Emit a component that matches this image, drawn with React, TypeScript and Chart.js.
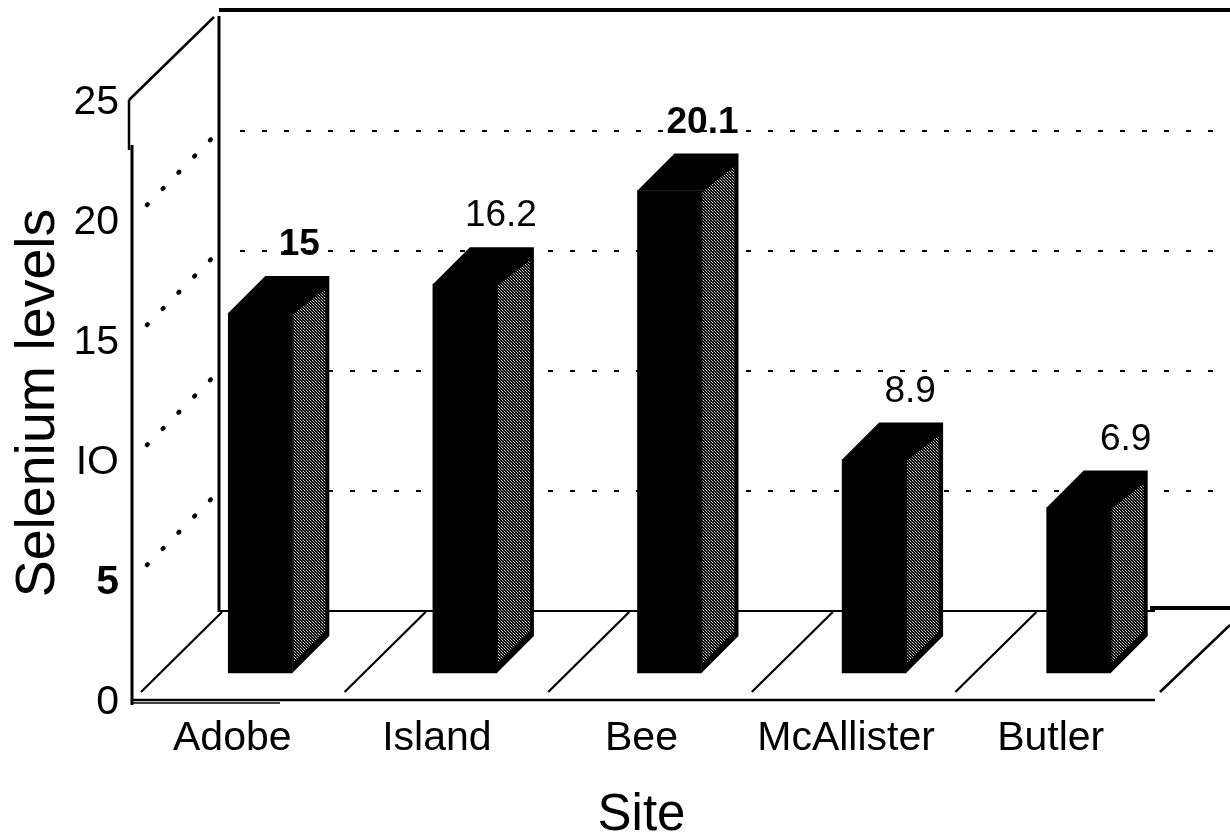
import React, { useEffect, useRef } from "react";
import { Chart, registerables } from "chart.js";

Chart.register(...registerables);

const sites = ["Adobe", "Island", "Bee", "McAllister", "Butler"];
const seleniumLevels = [15, 16.2, 20.1, 8.9, 6.9];
const valueLabels = ["15", "16.2", "20.1", "8.9", "6.9"];
const boldValueLabels = ["15", "20.1"];
const levelTicks = ["0", "5", "IO", "15", "20", "25"];
const wallLevels = [5, 10, 15, 20];

const FONT = "'Liberation Sans', Arial, sans-serif";
const BAR_SHIFT_X = 28;
const BAR_SHIFT_Y = -30;
const BAR_DEPTH = 37;
const WALL_X = 219;
const WALL_RISE = 92;

function dotPattern(ctx: CanvasRenderingContext2D) {
  const cell = document.createElement("canvas");
  cell.width = 3;
  cell.height = 3;
  const c = cell.getContext("2d")!;
  c.fillStyle = "#000";
  c.fillRect(0, 0, 3, 3);
  c.fillStyle = "#d8d8d8";
  c.fillRect(0, 0, 1, 1);
  c.fillRect(1, 1, 1, 1);
  c.fillStyle = "#777";
  c.fillRect(2, 2, 1, 1);
  return ctx.createPattern(cell, "repeat")!;
}

function line(ctx: CanvasRenderingContext2D, x1: number, y1: number, x2: number, y2: number, w: number) {
  ctx.lineWidth = w;
  ctx.beginPath();
  ctx.moveTo(x1, y1);
  ctx.lineTo(x2, y2);
  ctx.stroke();
}

// Walls, floor and dotted level lines of the box behind the columns.
const boxPlugin = {
  id: "box",
  beforeDatasetsDraw(chart: any) {
    const { ctx, scales } = chart;
    const y = scales.y;
    const x = scales.x;
    const base = y.getPixelForValue(0);
    const top = y.getPixelForValue(25);
    const floorY = base - WALL_RISE;
    const floorEnd = x.right + 2;
    const slot = (x.right - x.left) / sites.length - 1;
    ctx.save();
    ctx.strokeStyle = "#000";
    ctx.lineCap = "butt";

    wallLevels.forEach((v) => {
      const gy = y.getPixelForValue(v) - WALL_RISE;
      ctx.setLineDash([5, 17]);
      ctx.lineCap = "butt";
      line(ctx, WALL_X + 21, gy, 1230, gy, 2);
      ctx.setLineDash([1, 21.6]);
      ctx.lineCap = "round";
      line(ctx, WALL_X - 72, gy + 74, WALL_X, gy, 4.5);
    });
    ctx.setLineDash([]);
    ctx.lineCap = "butt";

    line(ctx, WALL_X, top - WALL_RISE + 5, WALL_X, floorY + 1, 3);
    line(ctx, WALL_X, top - WALL_RISE - 1, 1230, top - WALL_RISE - 1, 4);
    line(ctx, x.left - 1, top - 3, 214, 17, 2.5);
    line(ctx, x.left - 1, top - 3, x.left - 1, top + 47, 2.5);
    line(ctx, x.left + 2, top + 42, x.left + 2, base + 2, 3);
    line(ctx, x.left + 2, base - 3, floorEnd, base - 3, 2.5);
    line(ctx, x.left + 2, base, 280, base, 1.5);
    line(ctx, WALL_X, floorY, floorEnd, floorY, 2);
    line(ctx, floorEnd - 5, floorY - 3, 1230, floorY - 3, 4);

    sites.forEach((_, i) => {
      const sx = x.left + 11 + i * slot;
      line(ctx, sx, base - 11, sx + 81, floorY + 1, 2.2);
    });
    const last = x.left + 11 + sites.length * slot;
    line(ctx, last + 1, base - 11, 1230, floorY + 14, 2.5);
    ctx.restore();
  },
};

// Columns stand forward of the axis plane: shift their fronts, then add top and side faces.
const columnPlugin = {
  id: "columns",
  beforeDatasetDraw(chart: any) {
    chart.ctx.save();
    chart.ctx.translate(BAR_SHIFT_X, BAR_SHIFT_Y);
  },
  afterDatasetDraw(chart: any) {
    chart.ctx.restore();
  },
  afterDatasetsDraw(chart: any) {
    const { ctx } = chart;
    const bars = chart.getDatasetMeta(0).data;
    const shade = dotPattern(ctx);
    bars.forEach((bar: any, i: number) => {
      const half = bar.width / 2;
      const L = bar.x - half + BAR_SHIFT_X;
      const R = bar.x + half + BAR_SHIFT_X;
      const T = bar.y + BAR_SHIFT_Y;
      const B = bar.base + BAR_SHIFT_Y;
      const d = BAR_DEPTH;
      ctx.save();
      ctx.fillStyle = "#000";
      ctx.beginPath();
      ctx.moveTo(L, T);
      ctx.lineTo(L + d, T - d);
      ctx.lineTo(R + d, T - d);
      ctx.lineTo(R + d, B - d);
      ctx.lineTo(R, B);
      ctx.lineTo(R, T);
      ctx.closePath();
      ctx.fill();
      ctx.fillStyle = shade;
      ctx.beginPath();
      ctx.moveTo(R + 1, T + 1);
      ctx.lineTo(R + 33, T - 24);
      ctx.lineTo(R + 33, B - 42);
      ctx.lineTo(R + 1, B - 10);
      ctx.closePath();
      ctx.fill();

      const text = valueLabels[i];
      const nudge = [39, 36, 33, 36, 47][i];
      ctx.fillStyle = "#000";
      ctx.textAlign = "center";
      ctx.textBaseline = "middle";
      ctx.font = `${boldValueLabels.includes(text) ? "bold " : ""}37px ${FONT}`;
      ctx.fillText(text, L + half + nudge, T - 68);
      ctx.restore();
    });
  },
};

export default function App() {
  const canvasRef = useRef<HTMLCanvasElement | null>(null);

  useEffect(() => {
    const chart = new Chart(canvasRef.current!, {
      type: "bar",
      data: {
        labels: sites,
        datasets: [
          {
            data: seleniumLevels,
            backgroundColor: "#000",
            borderWidth: 0,
            barThickness: 64,
            clip: false,
          } as any,
        ],
      },
      plugins: [boxPlugin, columnPlugin],
      options: {
        responsive: false,
        animation: false,
        layout: { padding: { top: 103, right: 77, left: 0, bottom: 0 } },
        plugins: { legend: { display: false }, tooltip: { enabled: false } },
        scales: {
          x: {
            grid: { display: false, drawTicks: false },
            border: { display: false },
            ticks: {
              color: "#000",
              padding: 11,
              maxRotation: 0,
              autoSkip: false,
              font: { family: FONT, size: 41 },
            },
            title: {
              display: true,
              text: "Site",
              color: "#000",
              font: { family: FONT, size: 51, lineHeight: 1 },
              padding: { top: 20, bottom: -5 },
            },
            afterFit(scale: any) {
              scale.height = 133;
            },
          },
          y: {
            min: 0,
            max: 25,
            grid: { display: false, drawTicks: false },
            border: { display: false },
            ticks: {
              stepSize: 5,
              color: "#000",
              padding: 11,
              font: (c: any) => ({
                family: FONT,
                size: 41,
                weight: c.tick && c.tick.value === 5 ? "bold" : "normal",
              }),
              callback: (_v: any, i: number) => levelTicks[i],
            },
            title: {
              display: true,
              text: "Selenium levels",
              color: "#000",
              font: { family: FONT, size: 55.5 },
              padding: { top: 5, bottom: 0 },
            },
            afterFit(scale: any) {
              scale.width = 130;
            },
          },
        },
      } as any,
    });
    return () => chart.destroy();
  }, []);

  return (
    <div style={{ position: "absolute", left: 0, top: 0, width: 1230, height: 836, background: "#fff" }}>
      <canvas ref={canvasRef} width={1230} height={836} style={{ display: "block" }} />
    </div>
  );
}
